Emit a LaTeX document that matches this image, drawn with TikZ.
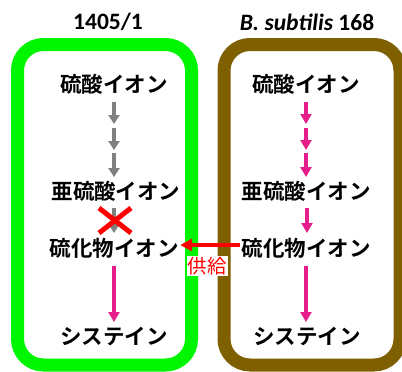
\documentclass[tikz,border=0pt]{standalone}
\usepackage{fontspec}
\setmainfont{Carlito}
\newfontfamily\jp{Noto Sans CJK JP}[BoldFont={Noto Sans CJK JP Bold}]
\usetikzlibrary{arrows.meta}
\definecolor{boxgreen}{RGB}{0,245,0}
\definecolor{boxbrown}{RGB}{127,96,0}
\definecolor{arrpink}{RGB}{230,30,140}
\definecolor{arrgray}{RGB}{128,128,128}
\begin{document}
\begin{tikzpicture}[x=1pt,y=-1pt,
  lbl/.style={font=\jp\bfseries\fontsize{21.5}{23}\selectfont, inner sep=1.5pt},
  ttl/.style={font=\bfseries\fontsize{23.5}{25}\selectfont, inner sep=0pt},
  cell/.style={line width=13pt, rounded corners=26pt},
  garr/.style={draw=arrgray, line width=4pt, -{Triangle[width=11pt,length=9pt]}},
  parr/.style={draw=arrpink, line width=3.5pt, -{Triangle[width=11pt,length=10pt]}},
  rarr/.style={draw=red, line width=3.5pt, -{Triangle[width=12pt,length=12pt]}},
  xline/.style={draw=red, line width=5pt}
]
\useasboundingbox (0,0) rectangle (402,372);
\fill[white] (0,0) rectangle (402,372);
% boxes
\draw[cell, draw=boxgreen] (17.5,44.5) rectangle (191.5,365);
\draw[cell, draw=boxbrown] (224,44.5) rectangle (400,365);
% titles
\node[ttl] (t1) at (108,22) {1405/1};
\node[ttl] (t2) at (307,22) {\textit{B. subtilis} 168};
% left column
\node[lbl] (l1) at (114,84) {硫酸イオン};
\node[lbl] (l2) at (116,191) {亜硫酸イオン};
\node[lbl] (l3) at (114,248) {硫化物イオン};
\node[lbl] (l4) at (114,336) {システイン};
% right column
\node[lbl] (r1) at (306,84) {硫酸イオン};
\node[lbl] (r2) at (306,191) {亜硫酸イオン};
\node[lbl] (r3) at (306,248) {硫化物イオン};
\node[lbl] (r4) at (307,336) {システイン};
% left arrows
\coordinate (la1) at (114,102); \coordinate (la2) at (114,124);
\coordinate (la3) at (114,128); \coordinate (la4) at (114,150);
\coordinate (la5) at (114,153); \coordinate (la6) at (114,177);
\draw[garr] (la1) -- (la2);
\draw[garr] (la3) -- (la4);
\draw[garr] (la5) -- (la6);
\coordinate (lb1) at (114,208); \coordinate (lb2) at (114,233);
\draw[garr] (lb1) -- (lb2);
\coordinate (lc1) at (114,266); \coordinate (lc2) at (114,322);
\draw[parr] (lc1) -- (lc2);
% right arrows
\coordinate (ra1) at (306,102); \coordinate (ra2) at (306,124);
\coordinate (ra3) at (306,128); \coordinate (ra4) at (306,150);
\coordinate (ra5) at (306,153); \coordinate (ra6) at (306,177);
\draw[parr] (ra1) -- (ra2);
\draw[parr] (ra3) -- (ra4);
\draw[parr] (ra5) -- (ra6);
\coordinate (rb1) at (307,208); \coordinate (rb2) at (307,233);
\draw[parr] (rb1) -- (rb2);
\coordinate (rc1) at (306,266); \coordinate (rc2) at (306,322);
\draw[parr] (rc1) -- (rc2);
% red X
\coordinate (x1) at (99,208); \coordinate (x2) at (131,233);
\coordinate (x3) at (99,233); \coordinate (x4) at (131,208);
\draw[xline] (x1) -- (x2);
\draw[xline] (x3) -- (x4);
% supply arrow
\draw[rarr] (r3.west |- 0,245) -- (l3.east |- 0,245);
\node[fill=white, text=red, inner sep=1pt, font=\jp\fontsize{19.5}{21}\selectfont] (sup) at (207,266) {供給};
\end{tikzpicture}
\end{document}
